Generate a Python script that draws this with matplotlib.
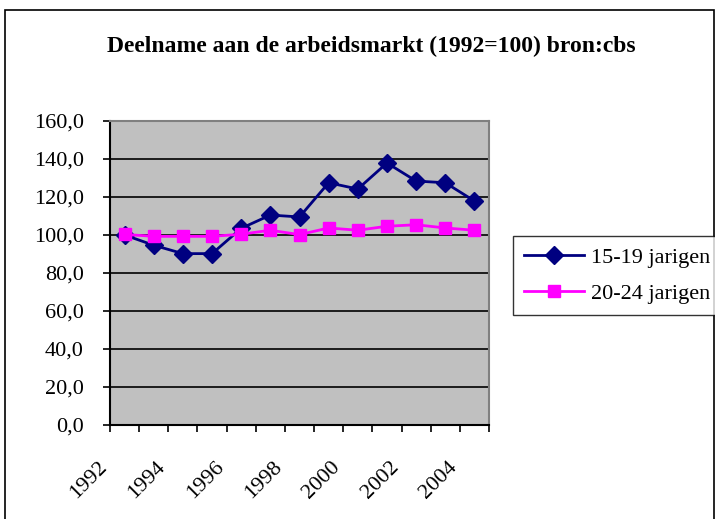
import matplotlib
matplotlib.use('Agg')
import matplotlib.pyplot as plt
import matplotlib.transforms as mtransforms
from matplotlib.patches import Rectangle
from matplotlib.ticker import FuncFormatter, FixedLocator, NullFormatter
import numpy as np

years = list(range(1992, 2005))
year_labels = ['1992', '1994', '1996', '1998', '2000', '2002', '2004']
jarigen_15_19 = [100.0, 94.6, 90.2, 90.2, 103.5, 110.5, 109.5, 127.5, 124.2, 137.9, 128.4, 127.5, 117.9]
jarigen_20_24 = [100.3, 99.3, 99.3, 99.3, 100.4, 102.5, 100.2, 103.7, 102.5, 104.6, 105.4, 103.7, 102.5]

plt.rcParams['font.family'] = ['Liberation Serif', 'DejaVu Serif']

fig = plt.figure(figsize=(7.15, 5.19), dpi=100)
fig.patch.set_facecolor('white')
# outer chart border
fig.patches.append(Rectangle((5 / 715, -0.01), 709 / 715, 1.0 - 10 / 519 + 0.01,
                             transform=fig.transFigure, fill=False,
                             edgecolor='black', linewidth=1.2))

ax = fig.add_axes([110 / 715, 94 / 519, 379 / 715, 304 / 519])
ax.set_facecolor('#C0C0C0')

x = np.arange(len(years))
ax.plot(x, jarigen_15_19, color='#000080', linewidth=2, marker='D',
        markersize=9, label='15-19 jarigen', zorder=3)
ax.plot(x, jarigen_20_24, color='#FF00FF', linewidth=2, marker='s',
        markersize=9, label='20-24 jarigen', zorder=3)

ax.set_xlim(-0.5, len(years) - 0.5)
ax.set_ylim(0, 160)
ax.set_yticks(np.arange(0, 161, 20))
ax.yaxis.set_major_formatter(FuncFormatter(lambda v, p: f'{v:.1f}'.replace('.', ',')))
ax.yaxis.grid(True, color='black', linewidth=1.2)
ax.set_axisbelow(True)

# category axis: ticks between categories, labels every other year
ax.xaxis.set_major_locator(FixedLocator(np.arange(-0.5, len(years), 1.0)))
ax.xaxis.set_major_formatter(NullFormatter())
ax.tick_params(axis='x', which='major', direction='out', length=5, width=1.2)
ax.tick_params(axis='y', direction='out', length=5, width=1.2, labelsize=16, pad=14)

lab_trans = mtransforms.offset_copy(ax.get_xaxis_transform(), fig=fig,
                                    x=-27, y=-33, units='dots')
for lab in year_labels:
    ax.text(years.index(int(lab)), 0, lab, transform=lab_trans, rotation=45,
            ha='right', va='top', rotation_mode='anchor', fontsize=16)

for side in ['left', 'bottom']:
    ax.spines[side].set_color('black')
    ax.spines[side].set_linewidth(1.5)
for side in ['top', 'right']:
    ax.spines[side].set_color('#808080')
    ax.spines[side].set_linewidth(1.5)

fig.text(371 / 715, 1 - 46 / 519, 'Deelname aan de arbeidsmarkt (1992=100) bron:cbs',
         ha='center', va='center', fontsize=17, fontweight='bold')

leg = fig.legend(loc='upper left', bbox_to_anchor=(513 / 715, 1 - 236 / 519),
                 borderaxespad=0, frameon=True, fancybox=False, edgecolor='black',
                 fontsize=16, handlelength=2.7, handletextpad=0.3, borderpad=0.5,
                 labelspacing=0.7)
leg.get_frame().set_linewidth(1.0)

plt.savefig('out.png', dpi=100)
